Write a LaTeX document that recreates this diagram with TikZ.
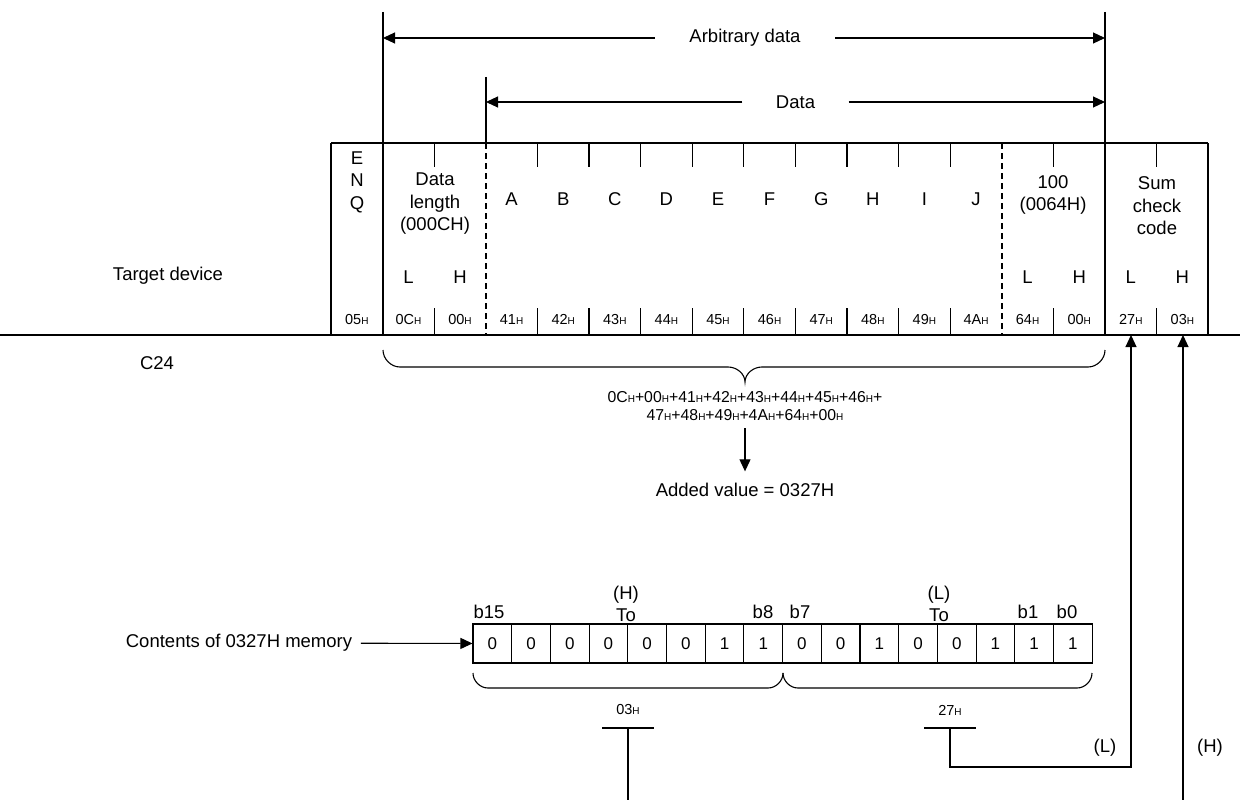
\documentclass[tikz,border=0pt]{standalone}
\usepackage{fontspec}
\setmainfont{Liberation Sans}
\usepackage{tikz}
\usetikzlibrary{arrows.meta,positioning,calc}

\newcommand{\hexh}[1]{#1{\fontsize{10}{10}\selectfont H}}

\begin{document}
\begin{tikzpicture}[
  x=1pt, y=-1pt,
  font=\fontsize{18.5}{22.5}\selectfont,
  line width=1.1pt,
  arrow/.style={-{Triangle[length=12pt,width=11pt]}},
  hexcode/.style={font=\fontsize{14.5}{16}\selectfont},
  sumtext/.style={font=\fontsize{15.8}{17.5}\selectfont, align=center},
  bitbox/.style={draw, minimum width=38.7pt, minimum height=39pt,
                 inner sep=0pt, font=\fontsize{17}{19}\selectfont},
  dashline/.style={dash pattern=on 6pt off 4pt, line width=1.4pt}
]
\useasboundingbox (0,0) rectangle (1240,800);

% frame of the message
\draw (0,335) -- (1240,335);
\draw (331,143) -- (1208,143);
\draw (331,143) -- (331,335);
\draw (1208,143) -- (1208,335);
\draw (383,12) -- (383,335);
\draw (1105,12) -- (1105,335);
\draw (486,77) -- (486,143);
\draw[dashline] (486,143) -- (486,335);
\draw[dashline] (1002,143) -- (1002,335);
\foreach \i in {2,4,5,6,7,8,9,10,11,12,14,16} {
  \draw ({331+51.6*\i},143) -- ++(0,24);
  \draw ({331+51.6*\i},335) -- ++(0,-27);
}

% range arrows
\node[inner xsep=34pt] (arb) at (745,38) {Arbitrary data};
\coordinate (arbL) at (383,38);
\coordinate (arbR) at (1105,38);
\draw[arrow] (arb.west) -- (arbL);
\draw[arrow] (arb.east) -- (arbR);
\node[inner xsep=33pt] (dat) at (795.5,102) {Data};
\coordinate (datL) at (486,102);
\coordinate (datR) at (1105,102);
\draw[arrow] (dat.west) -- (datL);
\draw[arrow] (dat.east) -- (datR);

% field texts
\node[align=center] (enq) at (357,182) {E\\N\\Q};
\node[align=center] (dlen) at (435,204) {Data\\length\\(000CH)};
\foreach \l [count=\k] in {A,B,C,D,E,F,G,H,I,J}
  \node[anchor=base] (let\l) at ({331+51.6*(\k+2.5)},205) {\l};
\node[align=center] (num) at (1053,195) {100\\(0064H)};
\node[align=center] (sum) at (1157,206) {Sum\\check\\code};
\foreach \c/\t in {1/L,2/H,13/L,14/H,15/L,16/H}
  \node[anchor=base] (lh\c) at ({331+51.6*(\c+0.5)},283) {\t};
\foreach \c [count=\k from 0] in {05,0C,00,41,42,43,44,45,46,47,48,49,4A,64,00,27,03}
  \node[hexcode, anchor=base] (code\k) at ({331+51.6*(\k+0.5)},324.5) {\hexh{\c}};

\node (target) at (168,276) {Target device};
\node (plc) at (157,363) {C24};

% sum range
\draw (383,350) .. controls (383,359) and (391,367) .. (400,367) -- (728,367)
  .. controls (737,367) and (745,374) .. (745,382)
  .. controls (745,374) and (753,367) .. (762,367) -- (1088,367)
  .. controls (1097,367) and (1105,359) .. (1105,350);
\node[sumtext] (formula) at (745,406) {\hexh{0C}+\hexh{00}+\hexh{41}+\hexh{42}+\hexh{43}+\hexh{44}+\hexh{45}+\hexh{46}+\\
  \hexh{47}+\hexh{48}+\hexh{49}+\hexh{4A}+\hexh{64}+\hexh{00}};
\node (added) at (745,490) {Added value = 0327H};
\draw[arrow, shorten <=4pt, shorten >=8pt] (formula.south) -- (added.north);

% memory contents
\foreach \b [count=\k from 0] in {0,0,0,0,0,0,1,1,0,0,1,0,0,1,1,1}
  \node[bitbox] (bit\k) at ({473+38.7*(\k+0.5)},643.5) {\b};
\node (b15) at (489,612) {b15};
\node (b8) at (763,612) {b8};
\node (b7) at (800,612) {b7};
\node (b1) at (1028,612) {b1};
\node (b0) at (1067,612) {b0};
\node[align=center] (hto) at (626,604) {(H)\\To};
\node[align=center] (lto) at (939,604) {(L)\\To};
\node (mem) at (239,643) {Contents of 0327H memory};
\draw[arrow, shorten <=5pt] (mem) -- (bit0);

\draw (473,673) .. controls (473,681) and (480,688) .. (488,688) -- (768,688)
  .. controls (776,688) and (783,681) .. (783,673);
\draw (783,673) .. controls (783,681) and (790,688) .. (798,688) -- (1077,688)
  .. controls (1085,688) and (1092,681) .. (1092,673);

% high and low bytes back to the sum check code
\node[hexcode] (hibyte) at (628,710) {\hexh{03}};
\node[hexcode] (lobyte) at (950,710) {\hexh{27}};
\draw (602,728) -- (654,728);
\draw (924,728) -- (976,728);
\coordinate (hibar) at (628,728);
\coordinate (hiend) at (628,800);
\coordinate (lobar) at (950,728);
\coordinate (loturn) at (1131,767);
\coordinate (sumL) at (1131,335);
\coordinate (hstart) at (1183,800);
\coordinate (sumH) at (1183,335);
\draw (hibar) -- (hiend);
\draw[arrow] (lobar) |- (loturn) -- (sumL);
\draw[arrow] (hstart) -- (sumH);
\node (lmark) at (1105,748) {(L)};
\node (hmark) at (1210,748) {(H)};
\end{tikzpicture}
\end{document}
